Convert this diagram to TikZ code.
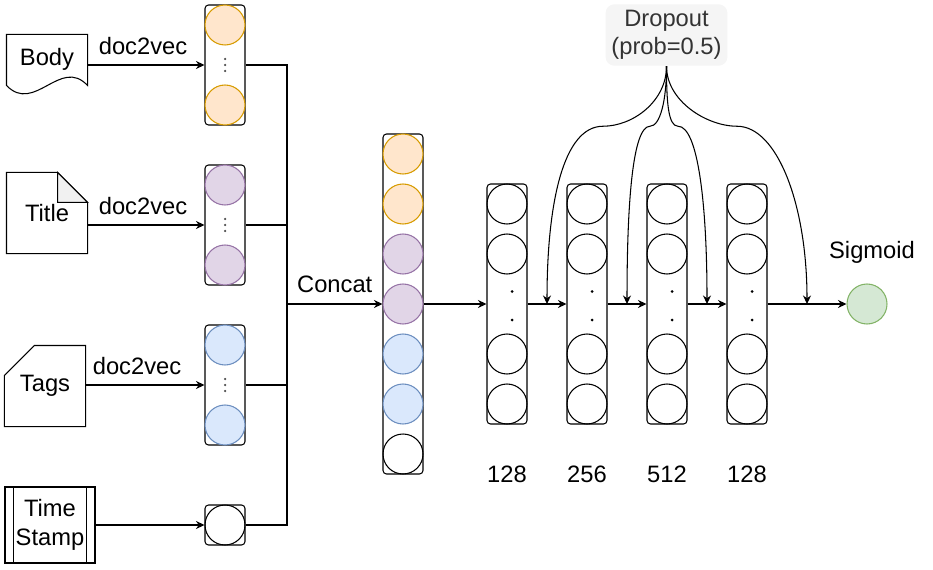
\documentclass[tikz,border=0pt]{standalone}
\usepackage{fontspec}
\setmainfont{Liberation Sans}
\usepackage{xcolor}
\usepackage{tikz}
\usetikzlibrary{arrows.meta, positioning, calc}

\definecolor{orangefill}{HTML}{FFE6CC}
\definecolor{orangeline}{HTML}{D79B00}
\definecolor{purplefill}{HTML}{E1D5E7}
\definecolor{purpleline}{HTML}{9673A6}
\definecolor{bluefill}{HTML}{DAE8FC}
\definecolor{blueline}{HTML}{6C8EBF}
\definecolor{greenfill}{HTML}{D5E8D4}
\definecolor{greenline}{HTML}{82B366}
\definecolor{dropfill}{HTML}{F5F5F5}
\definecolor{droptext}{HTML}{333333}
\definecolor{foldgray}{HTML}{F1F1F1}

\begin{document}
\begin{tikzpicture}[
    font=\fontsize{13.5}{16.2}\selectfont,
    line width=0.6pt,
    in_node/.style={
        minimum width=1.6cm,
        minimum height=1.6cm,
        inner sep=0pt,
        align=center
    },
    vec_node/.style={
        rectangle,
        draw,
        rounded corners=2pt,
        minimum width=0.8cm,
        inner sep=0pt
    },
    unit_node/.style={
        circle,
        draw,
        minimum size=0.8cm,
        inner sep=0pt
    },
    orange_unit/.style={unit_node, draw=orangeline, fill=orangefill},
    purple_unit/.style={unit_node, draw=purpleline, fill=purplefill},
    blue_unit/.style={unit_node, draw=blueline, fill=bluefill},
    green_unit/.style={unit_node, draw=greenline, fill=greenfill},
    drop_node/.style={
        rectangle,
        fill=dropfill,
        text=droptext,
        rounded corners=5pt,
        minimum width=2.38cm,
        minimum height=1.2cm,
        align=center
    },
    arrow/.style={-{Stealth[length=0.17cm, width=0.16cm]}}
]
    \useasboundingbox (0, 0) rectangle (18.66, -11.38);

    % Input documents
    \node[in_node, minimum height=0.96cm] (body) at (0.94, -1.18) {Body};
    \node[in_node] (title) at (0.94, -4.26) {Title};
    \node[in_node] (tags) at (0.9, -7.72) {Tags};
    \node[in_node, draw, minimum width=1.8cm, minimum height=1.52cm] (time) at (1.0, -10.5) {Time\\Stamp};

    \draw (body.north west) -- ++(0, -1.02) .. controls +(0.56, -0.58) and +(-0.54, 0.58) .. ($(body.north east) + (0, -1.02)$) -- (body.north east) -- cycle;
    \draw (title.north west) -- ([xshift=-0.6cm]title.north east) -- ([yshift=-0.6cm]title.north east) -- (title.south east) -- (title.south west) -- cycle;
    \filldraw[fill=foldgray] ([xshift=-0.6cm]title.north east) -- ([xshift=-0.6cm, yshift=-0.6cm]title.north east) -- ([yshift=-0.6cm]title.north east) -- cycle;
    \draw ([yshift=-0.6cm]tags.north west) -- ([xshift=0.6cm]tags.north west) -- (tags.north east) -- (tags.south east) -- (tags.south west) -- cycle;
    \draw ([xshift=0.18cm]time.north west) -- ([xshift=0.18cm]time.south west);
    \draw ([xshift=-0.18cm]time.north east) -- ([xshift=-0.18cm]time.south east);

    % Embedding vectors
    \node[vec_node, minimum height=2.4cm] (bvec) at (4.5, -1.3) {};
    \node[orange_unit] (b1) at (4.5, -0.5) {};
    \node[orange_unit] (b2) at (4.5, -2.1) {};
    \fill[black!70] ([yshift=0.12cm]bvec.center) circle (0.025cm) (bvec.center) circle (0.025cm) ([yshift=-0.12cm]bvec.center) circle (0.025cm);

    \node[vec_node, minimum height=2.4cm] (tvec) at (4.5, -4.5) {};
    \node[purple_unit] (t1) at (4.5, -3.7) {};
    \node[purple_unit] (t2) at (4.5, -5.3) {};
    \fill[black!70] ([yshift=0.12cm]tvec.center) circle (0.025cm) (tvec.center) circle (0.025cm) ([yshift=-0.12cm]tvec.center) circle (0.025cm);

    \node[vec_node, minimum height=2.4cm] (gvec) at (4.5, -7.7) {};
    \node[blue_unit] (g1) at (4.5, -6.9) {};
    \node[blue_unit] (g2) at (4.5, -8.5) {};
    \fill[black!70] ([yshift=0.12cm]gvec.center) circle (0.025cm) (gvec.center) circle (0.025cm) ([yshift=-0.12cm]gvec.center) circle (0.025cm);

    \node[vec_node, minimum height=0.8cm] (svec) at (4.5, -10.5) {};
    \node[unit_node] (s1) at (4.5, -10.5) {};

    % Input arrows
    \draw[arrow] (body.east |- bvec.west) -- (bvec.west) node[midway, above=2pt, xshift=-0.06cm] (lbl_body) {doc2vec};
    \draw[arrow] (title.east |- tvec.west) -- (tvec.west) node[midway, above=2pt, xshift=-0.06cm] (lbl_title) {doc2vec};
    \draw[arrow] (tags.east |- gvec.west) -- (gvec.west) node[midway, above=2pt, xshift=-0.16cm] (lbl_tags) {doc2vec};
    \draw[arrow] (time.east |- svec.west) -- (svec.west);

    % Concatenated vector
    \node[vec_node, minimum height=6.8cm] (cvec) at (8.06, -6.08) {};
    \node[orange_unit] (c1) at (8.06, -3.08) {};
    \node[orange_unit] (c2) at (8.06, -4.08) {};
    \node[purple_unit] (c3) at (8.06, -5.08) {};
    \node[purple_unit] (c4) at (8.06, -6.08) {};
    \node[blue_unit] (c5) at (8.06, -7.08) {};
    \node[blue_unit] (c6) at (8.06, -8.08) {};
    \node[unit_node] (c7) at (8.06, -9.08) {};

    \coordinate (bus) at (5.74, -6.08);
    \draw (bvec.east) -| (bus);
    \draw (tvec.east) -| (bus);
    \draw (gvec.east) -| (bus);
    \draw (svec.east) -| (bus);
    \draw[arrow] (bus) -- (cvec.west) node[midway, above=3pt] (lbl_concat) {Concat};

    % Hidden layers
    \node[vec_node, minimum height=4.8cm] (h1) at (10.14, -6.08) {};
    \node[unit_node] (h1a) at (10.14, -4.08) {};
    \node[unit_node] (h1b) at (10.14, -5.08) {};
    \node[unit_node] (h1c) at (10.14, -7.08) {};
    \node[unit_node] (h1d) at (10.14, -8.08) {};

    \node[vec_node, minimum height=4.8cm] (h2) at (11.74, -6.08) {};
    \node[unit_node] (h2a) at (11.74, -4.08) {};
    \node[unit_node] (h2b) at (11.74, -5.08) {};
    \node[unit_node] (h2c) at (11.74, -7.08) {};
    \node[unit_node] (h2d) at (11.74, -8.08) {};

    \node[vec_node, minimum height=4.8cm] (h3) at (13.34, -6.08) {};
    \node[unit_node] (h3a) at (13.34, -4.08) {};
    \node[unit_node] (h3b) at (13.34, -5.08) {};
    \node[unit_node] (h3c) at (13.34, -7.08) {};
    \node[unit_node] (h3d) at (13.34, -8.08) {};

    \node[vec_node, minimum height=4.8cm] (h4) at (14.94, -6.08) {};
    \node[unit_node] (h4a) at (14.94, -4.08) {};
    \node[unit_node] (h4b) at (14.94, -5.08) {};
    \node[unit_node] (h4c) at (14.94, -7.08) {};
    \node[unit_node] (h4d) at (14.94, -8.08) {};

    \fill ([xshift=0.1cm, yshift=0.25cm]h1.center) circle (0.03cm) ([xshift=0.1cm, yshift=-0.32cm]h1.center) circle (0.03cm);
    \fill ([xshift=0.1cm, yshift=0.25cm]h2.center) circle (0.03cm) ([xshift=0.1cm, yshift=-0.32cm]h2.center) circle (0.03cm);
    \fill ([xshift=0.1cm, yshift=0.25cm]h3.center) circle (0.03cm) ([xshift=0.1cm, yshift=-0.32cm]h3.center) circle (0.03cm);
    \fill ([xshift=0.1cm, yshift=0.25cm]h4.center) circle (0.03cm) ([xshift=0.1cm, yshift=-0.32cm]h4.center) circle (0.03cm);

    \node[below=0.7cm of h1] (n1) {128};
    \node[below=0.7cm of h2] (n2) {256};
    \node[below=0.7cm of h3] (n3) {512};
    \node[below=0.7cm of h4] (n4) {128};

    % Output
    \node[green_unit] (sig) at (17.34, -6.08) {};
    \node[above=0.28cm of sig, xshift=0.1cm] (sig_lbl) {Sigmoid};

    % Arrows
    \draw[arrow] (cvec.east) -- (h1.west);
    \draw[arrow] (h1.east) -- (h2.west);
    \draw[arrow] (h2.east) -- (h3.west);
    \draw[arrow] (h3.east) -- (h4.west);
    \draw[arrow] (h4.east) -- (sig.west);

    % Dropout
    \node[drop_node] (drop) at (13.33, -0.7) {Dropout\\(prob=0.5)};

    \coordinate (d1) at ($(h1.east)!0.5!(h2.west)$);
    \coordinate (d2) at ($(h2.east)!0.5!(h3.west)$);
    \coordinate (d3) at ($(h3.east)!0.5!(h4.west)$);
    \coordinate (d4) at ($(h4.east)!0.5!(sig.west)$);

    \draw[arrow] (drop.south) .. controls +(0, -0.7) and +(0.6, 0) .. ++(-1.27, -1.2) .. controls +(-0.8, 0) and +(0, 2.0) .. (d1);
    \draw[arrow] (drop.south) .. controls +(0, -0.7) and +(0.2, 0) .. ++(-0.33, -1.2) .. controls +(-0.35, 0) and +(0, 2.0) .. (d2);
    \draw[arrow] (drop.south) .. controls +(0, -0.7) and +(-0.2, 0) .. ++(0.23, -1.2) .. controls +(0.4, 0) and +(0, 2.0) .. (d3);
    \draw[arrow] (drop.south) .. controls +(0, -0.7) and +(-0.6, 0) .. ++(1.41, -1.2) .. controls +(0.8, 0) and +(0, 2.0) .. (d4);

\end{tikzpicture}
\end{document}
